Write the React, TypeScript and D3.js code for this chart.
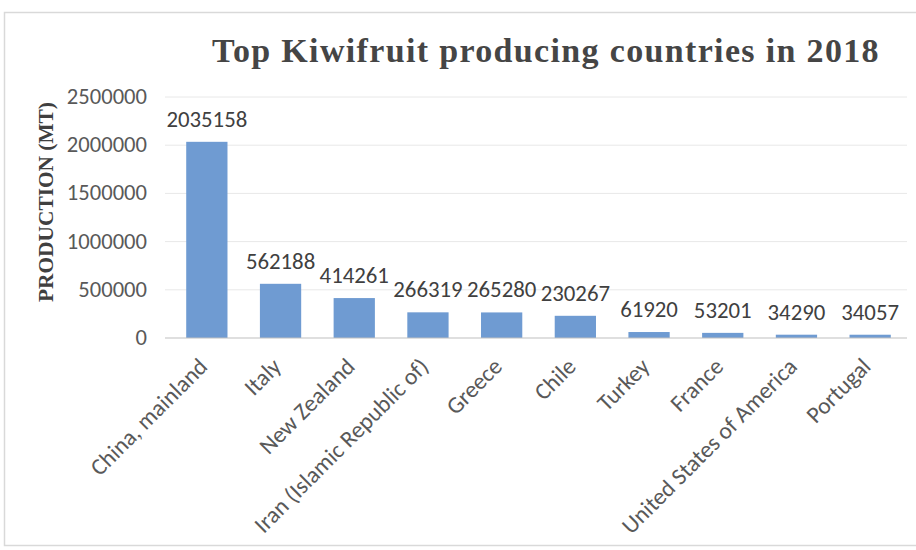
import React from "react";
import * as d3 from "d3";

const countries = ["China, mainland", "Italy", "New Zealand", "Iran (Islamic Republic of)", "Greece", "Chile", "Turkey", "France", "United States of America", "Portugal"];
const production = [2035158, 562188, 414261, 266319, 265280, 230267, 61920, 53201, 34290, 34057];
const yTicks = [0, 500000, 1000000, 1500000, 2000000, 2500000];

export default function App() {
  const W = 916, H = 550;
  const left = 170, right = 907, top = 97, bottom = 338;
  const x = d3.scaleBand<string>().domain(countries).range([left, right]).paddingInner(0.44).paddingOuter(0.22);
  const y = d3.scaleLinear().domain([0, 2500000]).range([bottom, top]);
  const font = "Carlito, Calibri, Lato, 'Liberation Sans', Arial, sans-serif";
  const serif = "'Liberation Serif', 'Times New Roman', serif";
  return (
    <svg width={W} height={H} style={{ position: "absolute", left: 0, top: 0 }}>
      <rect x={0} y={0} width={W} height={H} fill="#fff" />
      <rect x={4.5} y={12.5} width={W + 10} height={533} fill="none" stroke="#d9d9d9" strokeWidth={1.5} />
      <text x={212} y={62} textAnchor="start" fontFamily={serif} fontWeight="bold" fontSize={34} fill="#454545" letterSpacing={1.4} textLength={668} lengthAdjust="spacing">
        Top Kiwifruit producing countries in 2018
      </text>
      {yTicks.map((t) => (
        <g key={t}>
          {t > 0 && <line x1={165} x2={right} y1={y(t)} y2={y(t)} stroke="#e8e8e8" strokeWidth={1} />}
          <text x={147} y={y(t) + 7} textAnchor="end" fontFamily={font} fontSize={22.6} fill="#595959">{t}</text>
        </g>
      ))}
      <text transform={`translate(53,202) rotate(-90)`} textAnchor="middle" fontFamily={serif} fontWeight="bold" fontSize={21} fill="#404040" textLength={200} lengthAdjust="spacingAndGlyphs">
        PRODUCTION (MT)
      </text>
      {countries.map((c, i) => (
        <g key={c}>
          <rect x={x(c)} y={y(production[i])} width={x.bandwidth()} height={bottom - y(production[i])} fill="#6f9bd2" />
          <text x={(x(c) as number) + x.bandwidth() / 2} y={y(production[i]) - 15} textAnchor="middle" fontFamily={font} fontSize={22.8} fill="#404040">{production[i]}</text>
          <text transform={`translate(${(x(c) as number) + x.bandwidth() / 2 + 2},${bottom + 30}) rotate(-45)`} textAnchor="end" fontFamily={font} fontSize={23.5} fill="#595959">{c}</text>
        </g>
      ))}
      <line x1={165} x2={right} y1={bottom} y2={bottom} stroke="#bfbfbf" strokeWidth={1.2} />
    </svg>
  );
}
